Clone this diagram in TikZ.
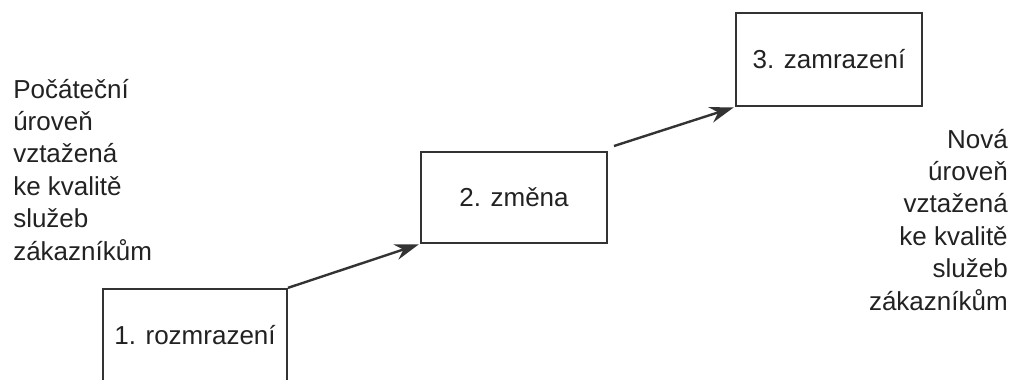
\documentclass[tikz,border=0pt]{standalone}
\usepackage{fontspec}
\setmainfont{Liberation Sans}
\usetikzlibrary{arrows.meta}
\definecolor{inkc}{HTML}{222222}
\definecolor{linec}{HTML}{333333}
\begin{document}
\begin{tikzpicture}[x=0.75pt,y=-0.75pt,
  every node/.style={font=\fontsize{19.5pt}{24.3pt}\selectfont, text=inkc},
  stepbox/.style={draw=linec, line width=1.5pt, inner sep=0pt},
  sidetext/.style={inner sep=0pt},
  flow/.style={draw=linec, line width=1.8pt, -{Stealth[length=18pt,width=12pt]}, shorten >=1pt}]
\useasboundingbox (0,0) rectangle (1015,379);
\clip (0,0) rectangle (1015,379);
\fill[white] (0,0) rectangle (1015,379);
\node[stepbox, minimum width=138pt, minimum height=70pt] (b1) at (195,335.5) {1. rozmrazení};
\node[stepbox, minimum width=139.5pt, minimum height=68.25pt] (b2) at (514,197.5) {2. změna};
\node[stepbox, minimum width=139.5pt, minimum height=69.75pt] (b3) at (829,59.5) {3. zamrazení};
\node[sidetext, align=left, anchor=base west] (lt) at (13,260) {Počáteční\\úroveň\\vztažená\\ke kvalitě\\služeb\\zákazníkům};
\node[sidetext, align=right, anchor=base east] (rt) at (1008,310) {Nová\\úroveň\\vztažená\\ke kvalitě\\služeb\\zákazníkům};
\draw[flow] (b1.north east) -- (b2.south west);
\draw[flow] ([shift={(6,-5)}]b2.north east) -- (b3.south west);
\end{tikzpicture}
\end{document}
